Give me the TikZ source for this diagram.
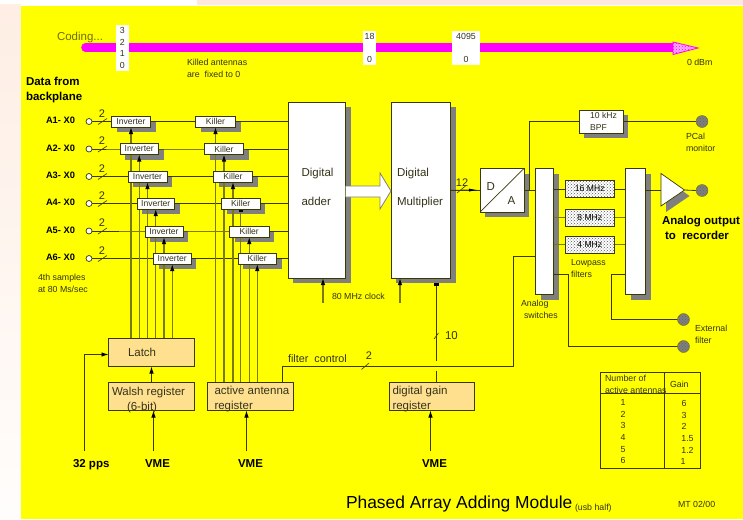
\documentclass[tikz,border=0pt]{standalone}
\usepackage{fontspec}
\setmainfont{Liberation Sans}
\usetikzlibrary{arrows.meta,patterns,calc}
\pgfdeclarelayer{under}\pgfdeclarelayer{lines}\pgfsetlayers{under,lines,main}
\definecolor{bgyel}{HTML}{FFFF00}
\definecolor{ln}{HTML}{3A3A00}
\definecolor{oliveln}{HTML}{7A7A00}
\definecolor{txt}{HTML}{33331A}
\definecolor{regfill}{HTML}{FFE08F}
\definecolor{shd}{HTML}{7F7F7F}
\definecolor{bar}{HTML}{FF00FF}
\tikzset{
 x=1pt,y=-1pt,
 conn/.style={draw=ln,line width=0.8pt},
 oconn/.style={draw=oliveln,line width=1.1pt},
 arr/.style={conn,-{Latex[length=7pt,width=4.5pt,black]}},
 oarr/.style={oconn,-{Latex[length=7pt,width=4.5pt,black]}},
 sqarr/.style={conn,-{Square[length=2.5pt,width=4pt,black]}},
 tick/.style={draw=ln,line width=0.6pt},
 base box/.style={draw=ln,line width=0.8pt,inner sep=0pt,outer sep=0pt,anchor=north west},
 boxfont/.style={text=txt,font=\fontsize{8.6}{11.5}\selectfont},
 whitebox/.style={base box,fill=white,align=left,boxfont},
 reg/.style={base box,fill=regfill,line width=0.9pt},
 filt/.style={base box,preaction={fill=white},pattern=crosshatch dots,pattern color=black!65,line width=0.9pt,boxfont,text=black},
 lab/.style={inner sep=0pt,outer sep=0pt,anchor=base west,text=txt,align=left},
 tiny/.style={lab,font=\fontsize{8.8}{11.8}\selectfont},
 body/.style={lab,font=\fontsize{11.5}{14.5}\selectfont},
 bold/.style={lab,text=black,font=\fontsize{11.5}{14.5}\selectfont\bfseries},
 antlab/.style={lab,text=black,font=\fontsize{9.3}{11}\selectfont\bfseries},
 hollow/.style={circle,draw=ln,fill=white,line width=0.7pt,minimum size=6pt,inner sep=0pt,outer sep=0pt},
 port/.style={circle,draw=oliveln,preaction={fill=shd},pattern=crosshatch dots,pattern color=black!60,minimum size=12pt,inner sep=0pt,outer sep=0pt},
 barstrip/.style={fill=white,inner sep=0pt,outer sep=0pt,anchor=north west,text=txt,font=\fontsize{8.8}{11.6}\selectfont,align=center},
}
\newcommand\sdnode[7][whitebox]{%
 \begin{pgfonlayer}{under}\fill[shd] ({#4+5},{#5+5}) rectangle ({#6+5},{#7+5});\end{pgfonlayer}%
 \pgfmathsetmacro\boxw{#6-#4}\pgfmathsetmacro\boxh{#7-#5}%
 \node[#1,minimum width=\boxw pt,minimum height=\boxh pt] (#3) at (#4,#5) {#2};}
\newcommand\plain[7][reg]{%
 \pgfmathsetmacro\boxw{#6-#4}\pgfmathsetmacro\boxh{#7-#5}%
 \node[#1,minimum width=\boxw pt,minimum height=\boxh pt] (#3) at (#4,#5) {#2};}
\newcommand\lowtxt[1]{\raisebox{-0.5pt}{#1}}
\begin{document}
\begin{tikzpicture}
\useasboundingbox (0,0) rectangle (743,519);
\begin{pgfonlayer}{under}
 \fill[white] (0,0) rectangle (743,519);
 \fill[top color={rgb,255:red,254;green,238;blue,228},bottom color={rgb,255:red,255;green,253;blue,252}] (0,5) rectangle (21,519);
 \fill[color={rgb,255:red,254;green,232;blue,220}] (197,0) rectangle (743,5);
 \fill[bgyel] (21,6) rectangle (743,519);
\end{pgfonlayer}

% magenta bar
\coordinate (barL) at (85.5,47.5);
\coordinate (barR) at (675,47.5);
\draw[bar,line width=8.6pt,line cap=round] (barL) -- (barR);
\fill[color={rgb,255:red,255;green,170;blue,255}] (673,42) -- (698,48) -- (673,54.5) -- cycle;
\draw[bar,line width=0.8pt,pattern=crosshatch dots,pattern color=bar] (673,42) -- (698,48) -- (673,54.5) -- cycle;
\node[barstrip,minimum width=13.5pt,minimum height=46pt] (s1) at (115.5,25) {3\\2\\1\\0};
\node[barstrip,minimum width=13pt,minimum height=34pt] (s2) at (363,31) {18\\[11.5pt]0};
\node[barstrip,minimum width=28pt,minimum height=34pt] (s3) at (452,31) {4095\\[11.5pt]0};
\node[lab,text=oliveln!90!black,font=\fontsize{11.5}{14}\selectfont] (coding) at (57,41) {Coding...};
\node[tiny] (killed) at (187,77) {Killed antennas\\are\ \ fixed to 0};
\node[tiny] (dbm) at (687,65) {0 dBm};
\node[bold] (data) at (26,100) {Data from\\backplane};

% antenna inputs
\foreach \i/\y/\ty in {1/121.5/123.5,2/149/151,3/176.5/178.5,4/203.5/205.5,5/231/233,6/258.5/260.5}{
 \node[antlab] (alab\i) at (46,\ty) {A\i- X0};
 \node[hollow] (c\i) at (89,\y) {};
 \node[font=\fontsize{11}{12}\selectfont,text=txt,inner sep=0pt] (two\i) at (102,{\y-8}) {2};
}

% inverters and killers
\sdnode{\lowtxt{Inverter}}{inv1}{111.5}{116}{150.5}{127}
\sdnode{\lowtxt{Inverter}}{inv2}{120}{143.5}{158.5}{154.5}
\sdnode{\lowtxt{Inverter}}{inv3}{128}{171}{167}{182}
\sdnode{\lowtxt{Inverter}}{inv4}{137}{198}{174.5}{209}
\sdnode{\lowtxt{Inverter}}{inv5}{145}{226}{183}{237}
\sdnode{\lowtxt{Inverter}}{inv6}{153.5}{253}{191}{264}
\sdnode{\lowtxt{Killer}}{kil1}{195.5}{116}{235.5}{127}
\sdnode{\lowtxt{Killer}}{kil2}{204.5}{143.5}{243.5}{154.5}
\sdnode{\lowtxt{Killer}}{kil3}{213.5}{171}{252.5}{182}
\sdnode{\lowtxt{Killer}}{kil4}{221.5}{198}{260}{209}
\sdnode{\lowtxt{Killer}}{kil5}{229.5}{226}{269}{237}
\sdnode{\lowtxt{Killer}}{kil6}{238}{253}{276.5}{264}

% big blocks
\sdnode{}{adder}{288}{102}{345.5}{278}
\sdnode{}{mult}{391.3}{102}{450.7}{278}
\node[lab,font=\fontsize{11.5}{29}\selectfont] (addertxt) at (301.5,205) {Digital\\adder};
\node[lab,font=\fontsize{11.5}{29}\selectfont] (multtxt) at (397,205) {Digital\\Multiplier};

% fat arrow between adder and multiplier
\coordinate (fatA) at (345.5,191);
\coordinate (fatB) at (391,191);
\draw[fill=white,draw=shd,line width=0.8pt] (345.5,186) -- (380,186) -- (380,173) -- (fatB) -- (380,209) -- (380,197) -- (345.5,197);

% registers
\plain{}{latch}{108.5}{338}{194.5}{366.5}
\plain{}{walsh}{108.5}{382}{194.5}{410.5}
\plain{}{active}{207.5}{382}{293}{410.5}
\plain{}{gainreg}{389.5}{382.5}{474.5}{410.5}
\node[body] (latchtxt) at (128,356) {Latch};
\node[body] (walshtxt) at (112,410) {Walsh register\\\hspace*{15pt}(6-bit)};
\node[body] (activetxt) at (214.5,409) {active antenna\\register};
\node[body] (gaintxt) at (392.5,409) {digital gain\\register};

% analog chain
\sdnode{}{da}{480}{168.5}{524}{212}
\draw[ln,line width=0.7pt] (da.south west) -- (da.north east);
\node[body] (dtxt) at (486.5,190) {D};
\node[body] (atxt) at (507.5,204) {A};
\sdnode{\hspace*{5pt}10 kHz\\\hspace*{5pt}BPF}{bpf}{579}{110}{623}{133}
\sdnode{}{sw}{535.5}{168.5}{553.5}{294.5}
\sdnode{}{mx}{625.5}{168.5}{645.5}{294.5}
\plain[filt]{16 MHz}{f16}{565}{180.5}{614.5}{197.5}
\plain[filt]{8 MHz}{f8}{565}{209.5}{614.5}{226}
\plain[filt]{4 MHz}{f4}{565}{236}{614.5}{253}
\coordinate (ampin) at (661,190);
\coordinate (ampout) at (684.5,190);
\fill[shd] (666,179) -- (689.5,196) -- (666,212) -- cycle;
\draw[fill=white,draw=ln,line width=0.7pt] (661,173.5) -- (ampout) -- (661,206) -- cycle;
\node[port] (pcal) at (702,121.5) {};
\node[port] (out) at (702,190.5) {};
\node[port] (ext1) at (683.5,319.5) {};
\node[port] (ext2) at (683.5,346.5) {};
\coordinate (dajoin) at (529.5,190);
\coordinate (ctlR) at (513,366.7);
\coordinate (ctlL) at (282.5,366.7);
\coordinate (ctlT) at (513,256);
\coordinate (sw2a) at (568.5,274);
\coordinate (sw2b) at (568.5,346.5);
\coordinate (mx2a) at (611.5,274.5);
\coordinate (mx2b) at (611.5,319.5);
\coordinate (pps) at (84.5,451);
\coordinate (ppsc) at (84.5,354.5);
\coordinate (vme1) at (153.5,451);
\coordinate (vme2) at (246.5,451);
\coordinate (vme3) at (430.5,451);
\coordinate (clkA) at (323,303);
\coordinate (clkM) at (400,303);
\coordinate (gainup) at (436.3,360.5);
\coordinate (gaintop) at (436.3,283);
\coordinate (gainlow) at (436.3,370.5);

\begin{pgfonlayer}{lines}
 \foreach \i in {1,...,6}{
  \draw[conn] (c\i.east) -- (inv\i.west |- c\i) -- (kil\i.west |- c\i) -- (adder.west |- c\i);
  \draw[tick] ($(c\i)+(9,3)$) -- ++(9,-6);
 }
 \foreach \i in {1,...,6}{
  \draw[oarr] (latch.north -| inv\i.south) -- (inv\i.south);
 }
 \foreach \i in {1,2,3,5,6}{
  \draw[oarr] (active.north -| kil\i.south) -- (kil\i.south);
 }
 \draw[oconn,-{Square[length=2.5pt,width=4pt,black]}] (active.north -| kil4.south) -- (kil4.south);
 \draw[arr] (walsh.north) -- (latch.south);
 \draw[arr] (pps) -- (ppsc) -- (latch.west |- ppsc);
 \draw[arr] (vme1) -- (vme1 |- walsh.south);
 \draw[arr] (vme2) -- (vme2 |- active.south);
 \draw[arr] (vme3) -- (vme3 |- gainreg.south);
 \draw[oarr] (clkA) -- (clkA |- adder.south);
 \draw[oarr] (clkM) -- (clkM |- mult.south);
 \draw[sqarr] (gainup) -- (gaintop);
 \draw[conn] (gainlow) -- (gainlow |- gainreg.north);
 \draw[tick] (434,339) -- (438.5,333);
 \draw[conn] (ctlL |- active.north) -- (ctlL) -- (ctlR) -- (ctlT) -- (sw.west |- ctlT);
 \draw[tick] (361.5,369.5) -- (369,363);
 \draw[conn] (mult.east |- da.west) -- (da.west);
 \draw[-{Latex[length=9pt,width=3pt,black]},ln,line width=0.8pt] (mult.east |- da.west) -- (478,190);
 \draw[tick] (457,193) -- (466,185.5);
 \draw[conn] (da.east) -- (sw.west |- da.east);
 \draw[conn] (dajoin) -- (dajoin |- bpf.west) -- (bpf.west);
 \draw[conn] (bpf.east) -- (pcal.west);
 \draw[conn] (sw.east |- f16.west) -- (f16.west);
 \draw[oconn] (sw.east |- f8.west) -- (f8.west);
 \draw[oconn] (sw.east |- f4.west) -- (f4.west);
 \draw[conn] (f16.east) -- (mx.west |- f16.east);
 \draw[oconn] (f8.east) -- (mx.west |- f8.east);
 \draw[oconn] (f4.east) -- (mx.west |- f4.east);
 \draw[conn] (mx.east |- ampin) -- (ampin);
 \draw[conn] (ampout) -- (out.west);
 \draw[conn] (sw.east |- sw2a) -- (sw2a) -- (sw2b) -- (ext2.west);
 \draw[conn] (mx.west |- mx2a) -- (mx2a) -- (mx2b) -- (ext1.west);
\end{pgfonlayer}

% labels
\node[font=\fontsize{11}{12}\selectfont,text=txt,inner sep=0pt] (twelve) at (462,182.5) {12};
\node[body] (ten) at (445,339.5) {10};
\node[font=\fontsize{11}{12}\selectfont,text=txt,inner sep=0pt] (ctl2) at (369,355.5) {2};
\node[lab,font=\fontsize{10.8}{13}\selectfont] (filterctl) at (288,362) {filter\ \ control};
\node[tiny] (clk) at (332,299) {80 MHz clock};
\node[tiny] (samples) at (38,292) {4th samples\\at 80 Ms/sec};
\node[tiny] (pcaltxt) at (686,151) {PCal\\monitor};
\node[bold] (anaout) at (662,239) {Analog output\\\hspace*{3pt}to\ \ recorder};
\node[tiny] (lowpass) at (571,277) {Lowpass\\filters};
\node[tiny] (switches) at (521,318) {Analog\\\hspace*{3pt}switches};
\node[tiny] (extf) at (695,343) {External\\filter};
\node[bold] (pps32) at (73,467) {32 pps};
\node[bold] (vmea) at (145,467) {VME};
\node[bold] (vmeb) at (238,467) {VME};
\node[bold] (vmec) at (422,467) {VME};

% gain table
\draw[ln,line width=0.9pt] (600.7,372.3) rectangle (700.5,468.5);
\draw[ln,line width=0.9pt] (664.5,372.3) -- (664.5,468.5);
\draw[ln,line width=0.8pt] (600.7,393.5) -- (700.5,393.5);
\node[tiny] (tabh) at (605,393) {Number of\\active antennas};
\node[tiny] (tabg) at (670,387) {Gain};
\foreach \n/\v/\y/\vx in {1/6/402/684,2/3/414/684,3/2/425.5/684,4/1.5/437.5/687.5,5/1.2/449/687.5,6/1/460.5/683}{
 \node[tiny,anchor=base] (rowa\n) at (623,{\y+3}) {\n};
 \node[tiny,anchor=base] (rowb\n) at (\vx,{\y+4}) {\v};
}

% title
\node[lab,text=black,font=\fontsize{17.4}{20}\selectfont] (title) at (346,508) {Phased Array Adding Module};
\node[tiny] (usb) at (575,510) {(usb half)};
\node[tiny] (mt) at (678,507) {MT 02/00};
\end{tikzpicture}
\end{document}
